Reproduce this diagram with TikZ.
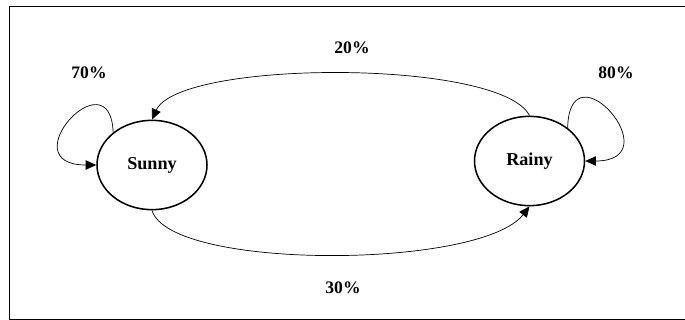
\documentclass[tikz,border=0pt]{standalone}
\usepackage{fontspec}
\setmainfont{Liberation Serif}
\usepackage{tikz}
\usetikzlibrary{shapes.geometric, arrows.meta, positioning}
\tikzset{
  state/.style={ellipse, draw=black, line width=1.3pt,
    minimum width=3.3cm, minimum height=2.68cm, inner sep=0pt,
    font=\fontsize{15.5}{18}\selectfont\bfseries},
  prob/.style={font=\fontsize{15}{18}\selectfont\bfseries},
  arrow/.style={-{Triangle[length=9pt,width=8pt]}, line width=0.6pt, color=black},
  frame/.style={line width=0.8pt}
}

\begin{document}
\begin{tikzpicture}[x=0.03cm, y=-0.03cm]
  \clip (0,0) rectangle (685,320);
  % Frame
  \draw[frame] (9,6) rectangle (700,319);

  % States
  \node[state] (sunny) at (152,165) {Sunny};
  \node[state] (rainy) at (529.5,161) {Rainy};

  % Probabilities
  \node[prob] (p70) at (89,73) {70\%};
  \node[prob] (p80) at (616,73) {80\%};
  \node[prob] (p20) at (352,48) {20\%};
  \node[prob] (p30) at (343,288) {30\%};

  % Transitions
  \draw[arrow] (sunny.140) .. controls +(-3,-78) and +(-87,0) .. (sunny.west);
  \draw[arrow] (rainy.41) .. controls +(2,-85) and +(87,0) .. (rainy.east);
  \draw[arrow] (rainy.north) .. controls +(-29,-57) and +(27,-60) .. (sunny.north);
  \draw[arrow] (sunny.south) .. controls +(18,60) and +(-49,63) .. (rainy.south);
\end{tikzpicture}
\end{document}
